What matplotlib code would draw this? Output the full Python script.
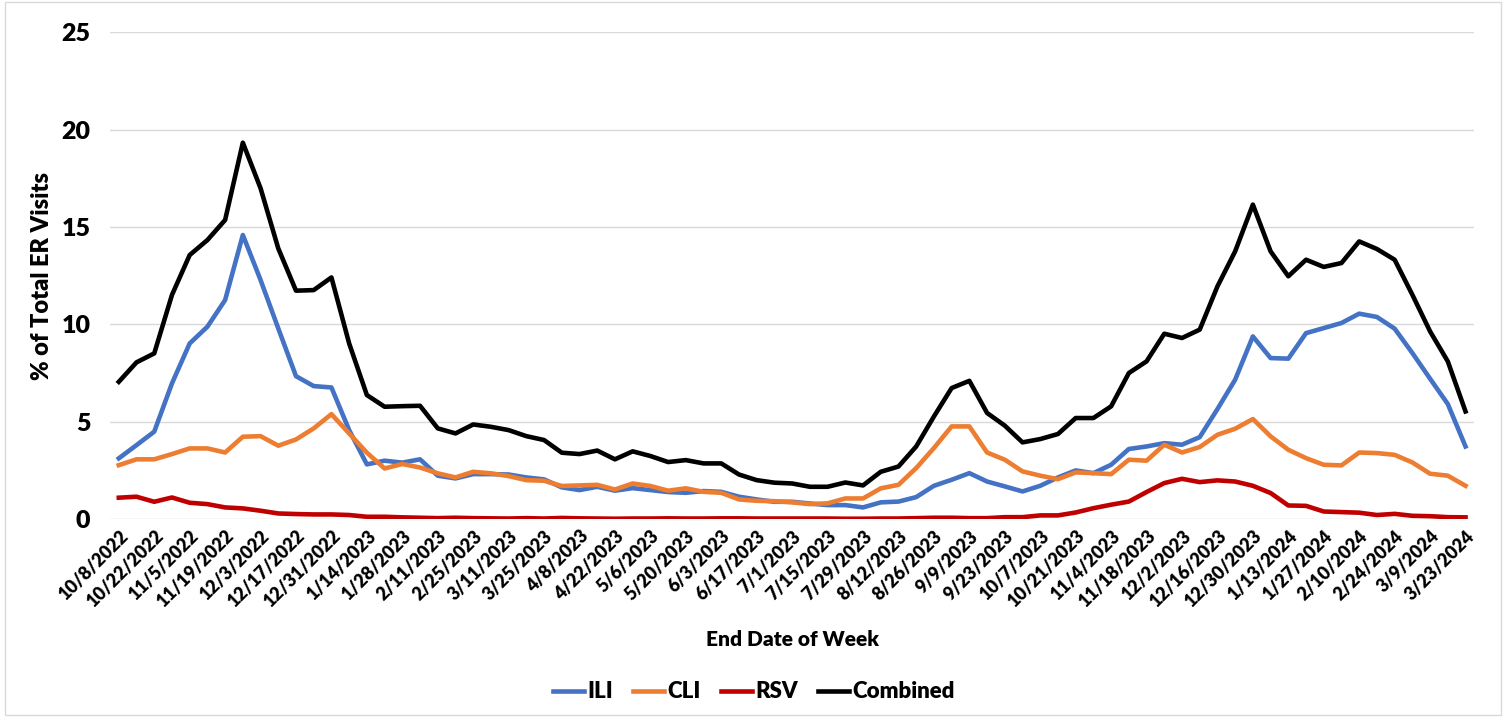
import pandas as pd
import matplotlib.pyplot as plt
from matplotlib.patches import Rectangle

plt.rcParams['font.family'] = ['Lato', 'DejaVu Sans']
plt.rcParams['font.weight'] = 'bold'

weeks = pd.date_range('2022-10-08', '2024-03-23', freq='7D')

ili = [3.12, 3.8, 4.49, 6.97, 9.02, 9.88, 11.25, 14.59, 12.28, 9.79,
       7.34, 6.83, 6.76, 4.57, 2.81, 3.0, 2.9, 3.07, 2.23, 2.09,
       2.31, 2.31, 2.29, 2.14, 2.04, 1.63, 1.49, 1.66, 1.46, 1.59,
       1.49, 1.39, 1.35, 1.44, 1.4, 1.15, 1.01, 0.89, 0.89, 0.8,
       0.72, 0.72, 0.6, 0.86, 0.9, 1.13, 1.71, 2.02, 2.36, 1.93,
       1.68, 1.42, 1.71, 2.14, 2.5, 2.36, 2.79, 3.6, 3.73, 3.9,
       3.82, 4.21, 5.65, 7.16, 9.38, 8.27, 8.24, 9.55, 9.81, 10.07,
       10.55, 10.38, 9.78, 8.53, 7.21, 5.91, 3.73]

cli = [2.77, 3.07, 3.07, 3.34, 3.63, 3.63, 3.42, 4.23, 4.26, 3.77,
       4.09, 4.66, 5.39, 4.4, 3.41, 2.6, 2.83, 2.65, 2.35, 2.14,
       2.43, 2.35, 2.21, 2.0, 1.97, 1.7, 1.73, 1.76, 1.52, 1.83,
       1.7, 1.46, 1.58, 1.4, 1.35, 1.01, 0.94, 0.92, 0.86, 0.77,
       0.81, 1.06, 1.06, 1.58, 1.76, 2.62, 3.65, 4.76, 4.76, 3.42,
       3.05, 2.45, 2.23, 2.05, 2.4, 2.36, 2.31, 3.05, 3.0, 3.82,
       3.42, 3.7, 4.33, 4.64, 5.14, 4.25, 3.56, 3.13, 2.79, 2.76,
       3.42, 3.39, 3.3, 2.91, 2.33, 2.23, 1.71]

rsv = [1.1, 1.15, 0.89, 1.11, 0.84, 0.77, 0.6, 0.55, 0.43, 0.29,
       0.26, 0.24, 0.24, 0.21, 0.12, 0.12, 0.09, 0.07, 0.05, 0.07,
       0.05, 0.04, 0.03, 0.05, 0.03, 0.06, 0.04, 0.03, 0.02, 0.03,
       0.03, 0.04, 0.03, 0.03, 0.04, 0.04, 0.03, 0.03, 0.03, 0.03,
       0.03, 0.02, 0.02, 0.03, 0.03, 0.05, 0.07, 0.07, 0.05, 0.05,
       0.1, 0.1, 0.19, 0.19, 0.34, 0.56, 0.74, 0.9, 1.39, 1.85,
       2.07, 1.9, 1.99, 1.93, 1.71, 1.34, 0.7, 0.68, 0.39, 0.36,
       0.33, 0.21, 0.27, 0.17, 0.15, 0.1, 0.09]

combined = [7.05, 8.05, 8.51, 11.51, 13.56, 14.33, 15.36, 19.33, 16.99, 13.9,
            11.73, 11.76, 12.41, 9.02, 6.37, 5.77, 5.8, 5.82, 4.66, 4.4,
            4.86, 4.74, 4.57, 4.26, 4.06, 3.41, 3.34, 3.52, 3.07, 3.48,
            3.24, 2.93, 3.03, 2.86, 2.86, 2.29, 2.0, 1.87, 1.83, 1.66,
            1.66, 1.88, 1.73, 2.43, 2.7, 3.73, 5.27, 6.73, 7.1, 5.45,
            4.8, 3.94, 4.11, 4.37, 5.19, 5.19, 5.79, 7.5, 8.1, 9.52,
            9.3, 9.73, 11.95, 13.75, 16.15, 13.75, 12.47, 13.32, 12.95, 13.15,
            14.26, 13.87, 13.32, 11.52, 9.64, 8.1, 5.53]

labels = [f'{d.month}/{d.day}/{d.year}' for d in weeks]
x = list(range(len(weeks)))

fig = plt.figure(figsize=(15.06, 7.17), dpi=100)
ax = fig.add_axes([0.073, 0.276, 0.906, 0.679])

ax.plot(x, ili, color='#4472C4', lw=3.3, label='ILI')
ax.plot(x, cli, color='#ED7D31', lw=3.3, label='CLI')
ax.plot(x, rsv, color='#C00000', lw=3.3, label='RSV')
ax.plot(x, combined, color='black', lw=3.3, label='Combined')

ax.set_xlim(-0.5, len(x) - 0.5)
ax.set_ylim(0, 25)
ax.set_yticks(range(0, 26, 5))
ax.yaxis.grid(True, color='#D9D9D9', lw=1)
ax.set_axisbelow(True)
for s in ax.spines.values():
    s.set_visible(False)

ax.set_xticks(x[::2])
ax.set_xticklabels(labels[::2], rotation=45, ha='right', rotation_mode='anchor',
                   fontsize=13, fontweight='heavy')
ax.tick_params(axis='x', length=0, pad=6)
ax.tick_params(axis='y', length=0, labelsize=18, pad=14)
for t in ax.get_yticklabels():
    t.set_fontweight('heavy')

ax.set_ylabel('% of Total ER Visits', fontsize=17, fontweight='heavy', labelpad=6)
ax.set_xlabel('End Date of Week', fontsize=15, fontweight='heavy', labelpad=14)

ax.legend(loc='center', bbox_to_anchor=(0.472, -0.355), ncol=4, frameon=False,
          prop={'size': 16, 'weight': 'heavy'}, handlelength=1.4,
          handletextpad=0.15, columnspacing=0.9)

fig.patches.append(Rectangle((0.003, 0.003), 0.994, 0.994, transform=fig.transFigure,
                             fill=False, edgecolor='#D9D9D9', lw=1))

fig.savefig('out.png', dpi=100)
